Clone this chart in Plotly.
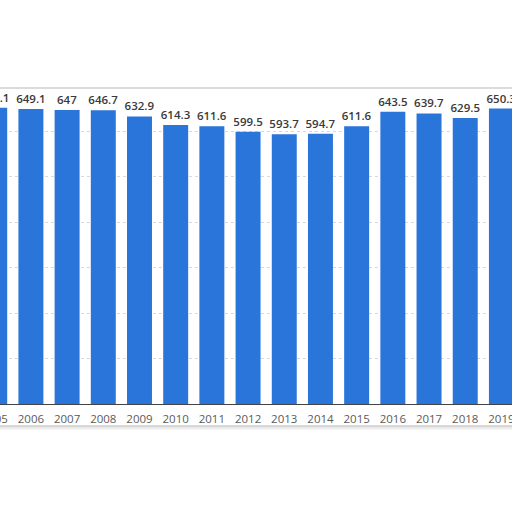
import plotly.graph_objects as go

# 数据
years = [2005, 2006, 2007, 2008, 2009, 2010, 2011, 2012,
         2013, 2014, 2015, 2016, 2017, 2018, 2019]
values = [652.1, 649.1, 647, 646.7, 632.9, 614.3, 611.6, 599.5,
          593.7, 594.7, 611.6, 643.5, 639.7, 629.5, 650.3]
value_labels = ["652.1", "649.1", "647", "646.7", "632.9", "614.3", "611.6", "599.5",
                "593.7", "594.7", "611.6", "643.5", "639.7", "629.5", "650.3"]
tick_labels = [str(y) for y in years]

BAR_COLOR = "#2a75d9"

# 图比窗口宽，左右两端各有一截被窗口裁掉（参考图就是截出来的）
PX_PER_YEAR = 36.2
X_MIN, X_MAX = 2004.4, 2019.9
VIEW_LEFT = 2005.157          # 窗口左边缘对应的年份位置
FIG_W = round((X_MAX - X_MIN) * PX_PER_YEAR)
SHIFT = round((VIEW_LEFT - X_MIN) * PX_PER_YEAR)
FIG_H = 512

fig = go.Figure()
fig.add_trace(go.Bar(
    x=years,
    y=values,
    width=0.69,
    marker=dict(color=BAR_COLOR, line=dict(width=0)),
    text=value_labels,
    textposition="outside",
    textfont=dict(family="Open Sans, Arial", size=11.5, color="#3a3a3a", weight=600),
    cliponaxis=False,
    hoverinfo="skip",
))

# 卡片边框（上/下阴影线）
fig.add_shape(type="rect", xref="paper", yref="paper",
              x0=-0.02, x1=1.02, y0=(FIG_H - 426) / FIG_H, y1=(FIG_H - 88) / FIG_H,
              line=dict(color="#cfcfcf", width=1.5), fillcolor="rgba(0,0,0,0)",
              layer="below")
fig.add_shape(type="line", xref="paper", yref="paper",
              x0=0, x1=1, y0=(FIG_H - 428) / FIG_H, y1=(FIG_H - 428) / FIG_H,
              line=dict(color="rgba(0,0,0,0.08)", width=3), layer="below")

fig.update_layout(
    width=FIG_W,
    height=FIG_H,
    margin=dict(l=0, r=0, t=0, b=0),
    paper_bgcolor="white",
    plot_bgcolor="white",
    showlegend=False,
    uniformtext=dict(minsize=11.5, mode="show"),
    font=dict(family="Open Sans, Arial", size=11, color="#555"),
    xaxis=dict(
        range=[X_MIN, X_MAX],
        tickmode="array",
        tickvals=years,
        ticktext=tick_labels,
        tickfont=dict(family="Open Sans, Arial", size=11.5, color="#5a5a5a"),
        ticklabelstandoff=4,
        showgrid=False,
        showline=True,
        linecolor="#444",
        linewidth=1,
        ticks="",
        zeroline=False,
    ),
    yaxis=dict(
        domain=[(FIG_H - 404) / FIG_H, (FIG_H - 86) / FIG_H],
        range=[0, 700],
        dtick=100,
        showticklabels=False,
        showgrid=True,
        gridcolor="#d9d9d9",
        griddash="dot",
        gridwidth=1,
        zeroline=False,
    ),
)

post = ("document.body.style.margin='0px';"
        f"document.body.style.marginLeft='-{SHIFT}px';"
        "document.body.style.overflow='hidden';")
fig.write_html("out.html", config={"displayModeBar": False}, post_script=post)
